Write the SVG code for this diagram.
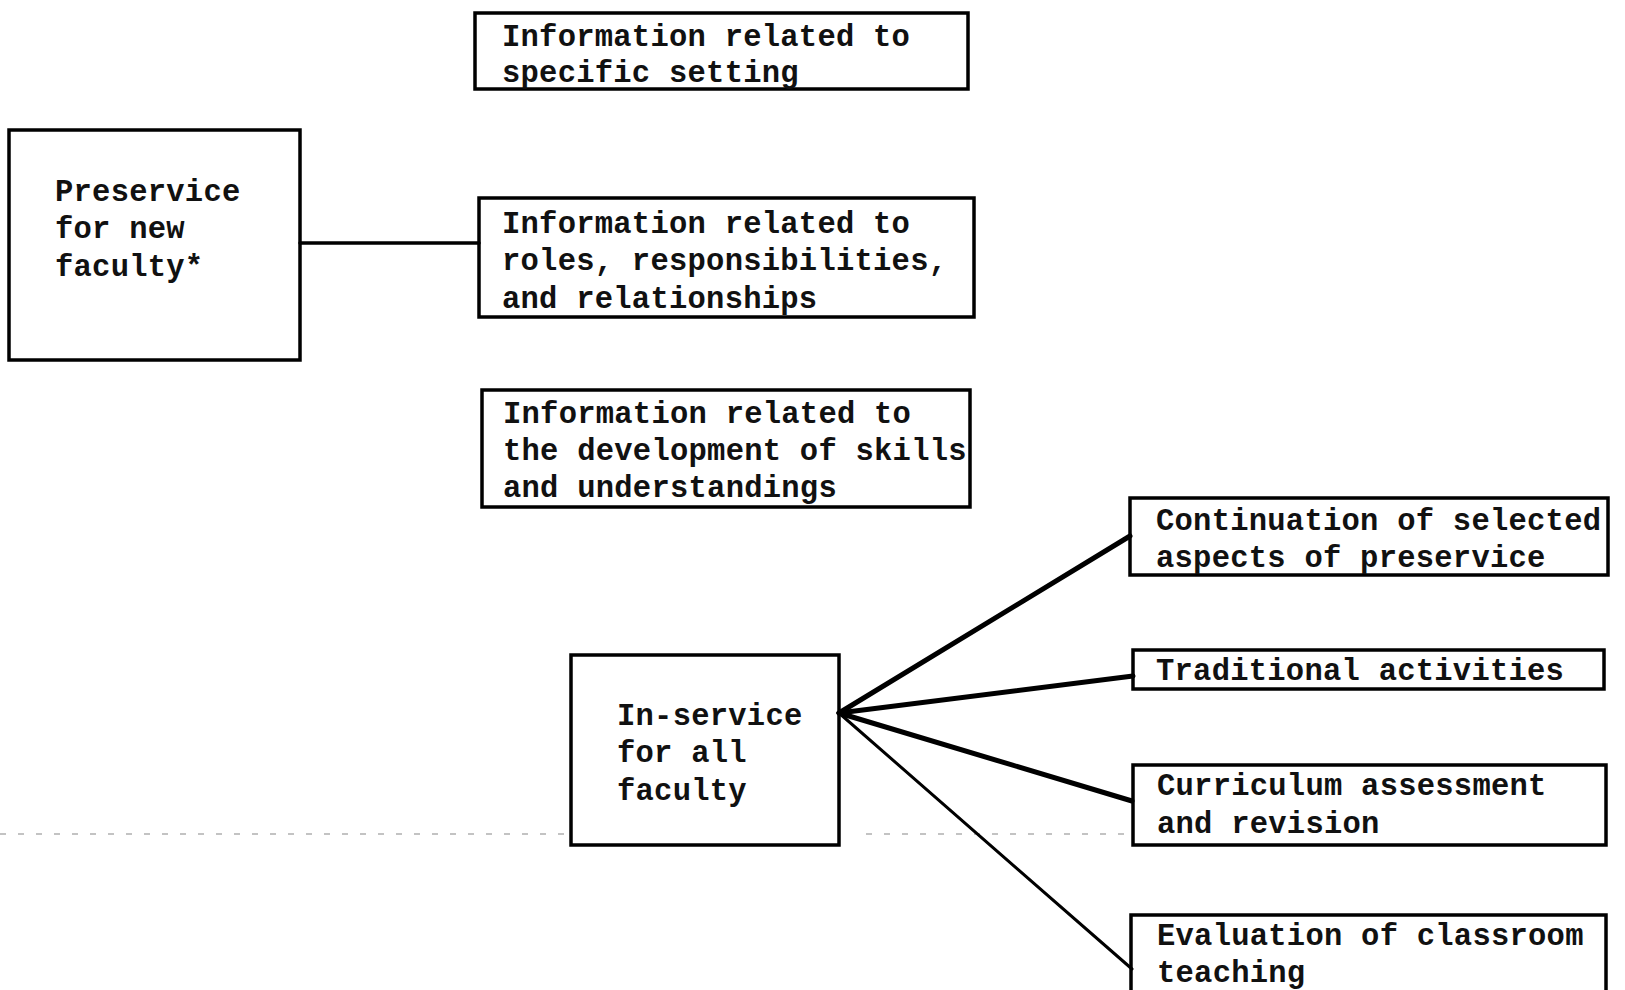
<svg xmlns="http://www.w3.org/2000/svg" width="1625" height="990" viewBox="0 0 1625 990">
<style>
.box{fill:none;stroke:#000;stroke-width:3.5}
.t{font-family:"Liberation Mono","Courier New",monospace;font-weight:bold;font-size:30.5px;letter-spacing:0.25px;fill:#111}
.c{stroke:#000;fill:none;stroke-linecap:round}
.scan{stroke:#888;stroke-width:1.2;stroke-dasharray:6 12;fill:none}
</style>
<rect width="1625" height="990" fill="#fff"/>
<g id="scan-line">
<path class="scan" d="M0 834 H565 M866 834 H1128"/>
</g>
<g id="connectors">
<path class="c" stroke-width="3.5" d="M300 243 H479"/>
<path class="c" stroke-width="5" d="M839 713 L1130 536"/>
<path class="c" stroke-width="5" d="M839 713 L1133 676"/>
<path class="c" stroke-width="5" d="M839 713 L1132 801"/>
<path class="c" stroke-width="3" d="M839 713 L1132 969"/>
</g>
<g id="node-specific-setting">
<rect class="box" x="475" y="13" width="493" height="76"/>
<text class="t" x="502" y="46">Information related to</text>
<text class="t" x="502" y="82">specific setting</text>
</g>
<g id="node-preservice">
<rect class="box" x="9" y="130" width="291" height="230"/>
<text class="t" x="55" y="201">Preservice</text>
<text class="t" x="55" y="238">for new</text>
<text class="t" x="55" y="276">faculty*</text>
</g>
<g id="node-roles">
<rect class="box" x="479" y="198" width="495" height="119"/>
<text class="t" x="502" y="233">Information related to</text>
<text class="t" x="502" y="270">roles, responsibilities,</text>
<text class="t" x="502" y="308">and relationships</text>
</g>
<g id="node-development">
<rect class="box" x="482" y="390" width="488" height="117"/>
<text class="t" x="503" y="423">Information related to</text>
<text class="t" x="503" y="460">the development of skills</text>
<text class="t" x="503" y="497">and understandings</text>
</g>
<g id="node-inservice">
<rect class="box" x="571" y="655" width="268" height="190"/>
<text class="t" x="617" y="725">In-service</text>
<text class="t" x="617" y="762">for all</text>
<text class="t" x="617" y="800">faculty</text>
</g>
<g id="node-continuation">
<rect class="box" x="1130" y="498" width="478" height="77"/>
<text class="t" x="1156" y="530">Continuation of selected</text>
<text class="t" x="1156" y="567">aspects of preservice</text>
</g>
<g id="node-traditional">
<rect class="box" x="1133" y="650" width="471" height="39"/>
<text class="t" x="1156" y="680">Traditional activities</text>
</g>
<g id="node-curriculum">
<rect class="box" x="1133" y="765" width="473" height="80"/>
<text class="t" x="1157" y="795">Curriculum assessment</text>
<text class="t" x="1157" y="833">and revision</text>
</g>
<g id="node-evaluation">
<rect class="box" x="1131" y="915" width="475" height="80"/>
<text class="t" x="1157" y="945">Evaluation of classroom</text>
<text class="t" x="1157" y="982">teaching</text>
</g>
</svg>
